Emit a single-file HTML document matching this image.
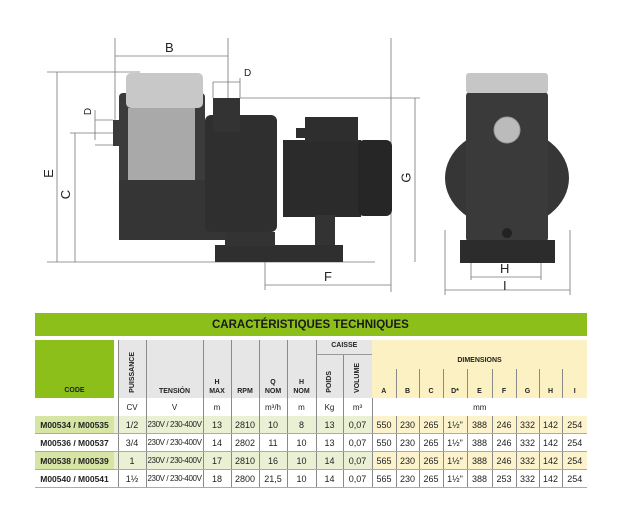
<!DOCTYPE html>
<html><head><meta charset="utf-8">
<style>
body{margin:0;width:620px;height:515px;background:#fff;position:relative;overflow:hidden;font-family:"Liberation Sans",sans-serif;}
.lbl{position:absolute;font-size:13px;color:#222;}
table{position:absolute;left:35px;top:340px;width:552px;border-collapse:collapse;table-layout:fixed;font-size:9px;color:#222;}
td{padding:0;text-align:center;vertical-align:middle;border-left:1px solid #8a8a8a;white-space:nowrap;overflow:hidden;}
.h td{background:#e6e6e6;font-weight:bold;font-size:7px;vertical-align:bottom;padding-bottom:2px;line-height:9px;}
.h td.code{background:#8dbf1a;border:none;padding-bottom:3px}
td.gap{border:none;background:#fff}
.h td.dim{background:#fbf1c2;}
.vt{display:inline-block;writing-mode:vertical-rl;transform:rotate(180deg);white-space:nowrap;font-size:7px}
.u td{background:#fff;font-size:8px;height:18px;}
.r td{height:17px;border-bottom:1px solid #aaa;font-size:9px}
.r td.c{font-weight:bold;border-left:none;font-size:8.5px}
.r td.t{font-size:8px;letter-spacing:-0.4px}
.g td{background:#eaf0d4}
.g td.c{background:#d6e4a4}
.g td.y{background:#fcf3cd}
</style></head><body>
<svg width="620" height="310" style="position:absolute;left:0;top:0">
<g stroke="#777" stroke-width="0.8" fill="none">
<line x1="115" y1="38" x2="115" y2="140"/><line x1="228" y1="38" x2="228" y2="100"/>
<line x1="115" y1="56" x2="228" y2="56"/>
<line x1="47" y1="72" x2="140" y2="72"/><line x1="57" y1="72" x2="57" y2="262"/>
<line x1="75" y1="133" x2="75" y2="262"/><line x1="70" y1="133" x2="113" y2="133"/>
<line x1="47" y1="262" x2="375" y2="262"/>
<line x1="240" y1="98" x2="420" y2="98"/><line x1="415" y1="98" x2="415" y2="262"/>
<line x1="391" y1="38" x2="391" y2="292"/>
<line x1="265" y1="262" x2="265" y2="290"/><line x1="265" y1="285" x2="391" y2="285"/>
<line x1="213" y1="82" x2="240" y2="82"/><line x1="213" y1="82" x2="213" y2="98"/><line x1="240" y1="78" x2="240" y2="98"/>
<line x1="95" y1="110" x2="95" y2="140"/><line x1="95" y1="120" x2="113" y2="120"/><line x1="95" y1="145" x2="113" y2="145"/>
<line x1="445" y1="230" x2="445" y2="295"/><line x1="570" y1="230" x2="570" y2="295"/>
<line x1="445" y1="290" x2="570" y2="290"/>
<line x1="471" y1="262" x2="471" y2="280"/><line x1="541" y1="262" x2="541" y2="280"/>
<line x1="471" y1="277" x2="541" y2="277"/>
</g>
<rect x="113" y="120" width="16" height="26" fill="#3a3a3a"/>
<rect x="119" y="93" width="86" height="147" rx="4" fill="#3b3b3b"/>
<rect x="119" y="180" width="152" height="60" fill="#353535"/>
<rect x="205" y="115" width="72" height="117" rx="6" fill="#2f2f2f"/>
<rect x="213" y="98" width="27" height="34" fill="#333"/>
<rect x="128" y="108" width="67" height="72" fill="#a9a9a9"/>
<rect x="126" y="73" width="77" height="35" rx="5" fill="#c8c8c8"/>
<rect x="283" y="140" width="78" height="77" fill="#2b2b2b"/>
<rect x="358" y="140" width="34" height="76" rx="6" fill="#262626"/>
<rect x="305" y="117" width="53" height="25" fill="#2e2e2e"/>
<rect x="296" y="128" width="10" height="10" fill="#2e2e2e"/>
<rect x="315" y="215" width="20" height="32" fill="#333"/>
<rect x="215" y="245" width="128" height="17" fill="#2f2f2f"/>
<rect x="225" y="232" width="50" height="14" fill="#333"/>
<ellipse cx="507" cy="178" rx="62" ry="50" fill="#363636"/>
<rect x="466" y="92" width="82" height="150" rx="4" fill="#3a3a3a"/>
<rect x="466" y="73" width="82" height="20" rx="3" fill="#c6c6c6"/>
<circle cx="507" cy="130" r="13" fill="#bbb" stroke="#999"/>
<circle cx="507" cy="233" r="5" fill="#222"/>
<rect x="460" y="240" width="95" height="23" fill="#2c2c2c"/>
</svg>
<div class="lbl" style="left:165px;top:40px">B</div>
<div class="lbl" style="left:244px;top:68px;font-size:10px">D</div>
<div class="lbl" style="left:85px;top:106px;font-size:10px;transform:rotate(-90deg)">D</div>
<div class="lbl" style="left:44px;top:166px;transform:rotate(-90deg)">E</div>
<div class="lbl" style="left:61px;top:187px;transform:rotate(-90deg)">C</div>
<div class="lbl" style="left:401px;top:170px;transform:rotate(-90deg)">G</div>
<div class="lbl" style="left:324px;top:269px">F</div>
<div class="lbl" style="left:500px;top:261px">H</div>
<div class="lbl" style="left:503px;top:278px">I</div>
<div style="position:absolute;left:35px;top:313px;width:552px;height:23px;background:#8dbf1a;font-weight:bold;font-size:11.5px;line-height:25px;color:#1a1a1a;box-sizing:border-box;padding-left:177px">CARACTÉRISTIQUES TECHNIQUES</div>
<table>
<colgroup><col style="width:79px"><col style="width:4px"><col style="width:28px"><col style="width:57px"><col style="width:28px"><col style="width:28px"><col style="width:28px"><col style="width:29px"><col style="width:27px"><col style="width:29px"><col style="width:24px"><col style="width:23px"><col style="width:24px"><col style="width:24px"><col style="width:25px"><col style="width:24px"><col style="width:23px"><col style="width:23px"><col style="width:25px"></colgroup>
<tr class="h" style="height:14px"><td class="code" rowspan="3">CODE</td><td class="gap" rowspan="3"></td><td rowspan="3"><span class="vt">PUISSANCE</span></td><td rowspan="3">TENSIÓN</td><td rowspan="3">H<br>MAX</td><td rowspan="3">RPM</td><td rowspan="3">Q<br>NOM</td><td rowspan="3">H<br>NOM</td><td colspan="2" style="vertical-align:middle;border-bottom:1px solid #999">CAISSE</td><td class="dim" colspan="9" rowspan="2" style="border-left:none;padding-bottom:4px">DIMENSIONS</td></tr>
<tr class="h" style="height:15px"><td rowspan="2"><span class="vt">POIDS</span></td><td rowspan="2"><span class="vt">VOLUME</span></td></tr>
<tr class="h" style="height:29px"><td class="dim" style="border-left:none">A</td><td class="dim">B</td><td class="dim">C</td><td class="dim">D*</td><td class="dim">E</td><td class="dim">F</td><td class="dim">G</td><td class="dim">H</td><td class="dim">I</td></tr>
<tr class="u"><td style="border:none"></td><td class="gap"></td><td>CV</td><td>V</td><td>m</td><td></td><td>m³/h</td><td>m</td><td>Kg</td><td>m³</td><td colspan="9">mm</td></tr>
<tr class="r g"><td class="c">M00534 / M00535</td><td class="gap"></td><td>1/2</td><td class="t">230V / 230-400V</td><td>13</td><td>2810</td><td>10</td><td>8</td><td>13</td><td>0,07</td><td class="y">550</td><td class="y">230</td><td class="y">265</td><td class="y">1½"</td><td class="y">388</td><td class="y">246</td><td class="y">332</td><td class="y">142</td><td class="y">254</td></tr>
<tr class="r"><td class="c">M00536 / M00537</td><td class="gap"></td><td>3/4</td><td class="t">230V / 230-400V</td><td>14</td><td>2802</td><td>11</td><td>10</td><td>13</td><td>0,07</td><td>550</td><td>230</td><td>265</td><td>1½"</td><td>388</td><td>246</td><td>332</td><td>142</td><td>254</td></tr>
<tr class="r g"><td class="c">M00538 / M00539</td><td class="gap"></td><td>1</td><td class="t">230V / 230-400V</td><td>17</td><td>2810</td><td>16</td><td>10</td><td>14</td><td>0,07</td><td class="y">565</td><td class="y">230</td><td class="y">265</td><td class="y">1½"</td><td class="y">388</td><td class="y">246</td><td class="y">332</td><td class="y">142</td><td class="y">254</td></tr>
<tr class="r"><td class="c">M00540 / M00541</td><td class="gap"></td><td>1½</td><td class="t">230V / 230-400V</td><td>18</td><td>2800</td><td>21,5</td><td>10</td><td>14</td><td>0,07</td><td>565</td><td>230</td><td>265</td><td>1½"</td><td>388</td><td>253</td><td>332</td><td>142</td><td>254</td></tr>
</table>
</body></html>
